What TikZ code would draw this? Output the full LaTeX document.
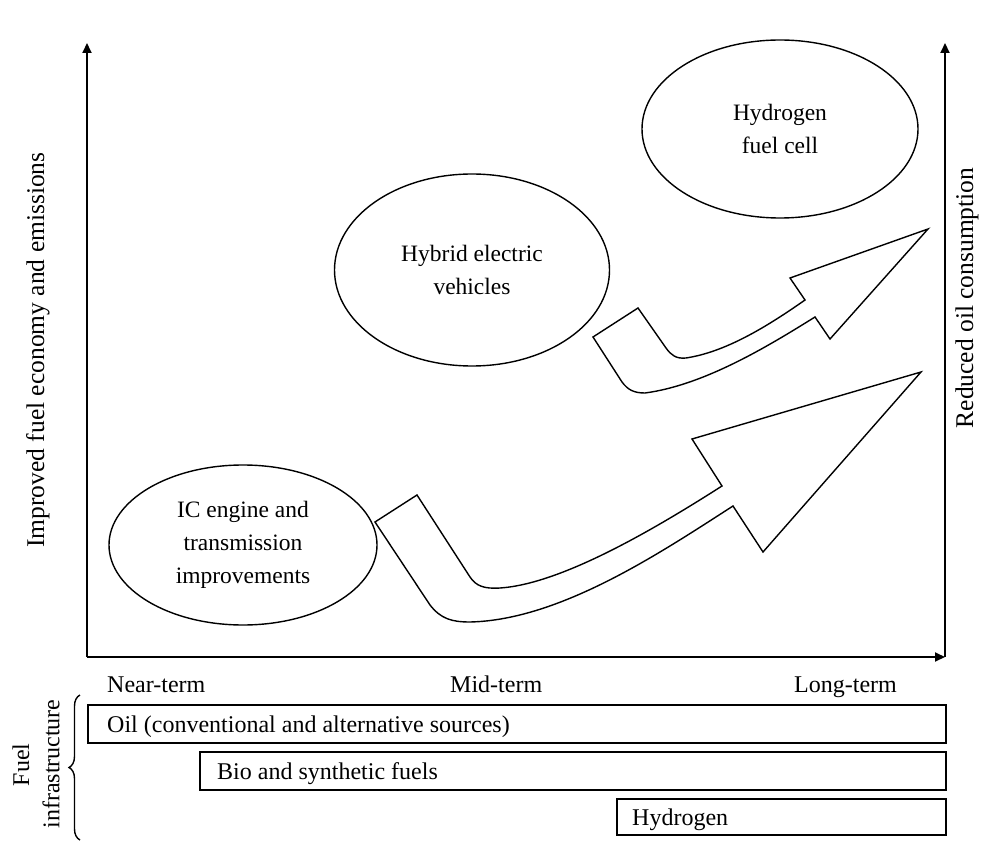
\documentclass[tikz,border=0pt]{standalone}
\usepackage{fontspec}
\setmainfont{Liberation Serif}
\usetikzlibrary{arrows.meta,shapes.geometric,decorations.pathreplacing}
\begin{document}
\begin{tikzpicture}[x=1pt,y=-1pt,
  lbl/.style={font=\fontsize{24}{33}\selectfont, inner sep=0pt},
  axlbl/.style={font=\fontsize{25.5}{30}\selectfont, inner sep=0pt},
  oval/.style={draw, line width=1.4pt, ellipse, inner sep=0pt, align=center, font=\fontsize{23.5}{33}\selectfont},
  axis/.style={line width=2pt, -{Triangle[length=10pt,width=9pt]}},
  fat/.style={draw, line width=1.4pt, line join=miter},
  bar/.style={draw, line width=2pt, inner sep=0pt, anchor=north west},
]
\useasboundingbox (0,0) rectangle (983,842);

% axes
\coordinate (o) at (87,657);
\coordinate (ytop) at (87,43);
\coordinate (xend) at (945,657);
\coordinate (rtop) at (945,43);
\draw[axis] (o) -- (ytop);
\draw[axis] (o) -- (xend);
\draw[axis] (xend) -- (rtop);

\node[axlbl, rotate=90] (ylab) at (38,350) {Improved fuel economy and emissions};
\node[axlbl, rotate=90] (rlab) at (967,298) {Reduced oil consumption};

% ellipses
\node[oval, minimum width=276pt, minimum height=178pt] (h2) at (780,129) {Hydrogen\\fuel cell};
\node[oval, minimum width=275pt, minimum height=192pt] (hev) at (472,270) {Hybrid electric\\vehicles};
\node[oval, minimum width=268pt, minimum height=160pt] (ice) at (243,545) {IC engine and\\transmission\\improvements};

% upper fat arrow
\draw[fat] (593,337) -- (638,308) -- (666,348)
  .. controls (671,355) and (676,359) .. (686,358)
  .. controls (725,352) and (765,328) .. (805,300)
  -- (790,278) -- (928,229) -- (830,339) -- (815,317)
  .. controls (770,345) and (705,385) .. (645,393)
  .. controls (634,393) and (628,390) .. (622,382) -- cycle;

% lower fat arrow
\draw[fat] (375,522) -- (417,495) -- (470,577)
  .. controls (476,586) and (484,589) .. (500,588)
  .. controls (560,584) and (650,532) .. (722,486)
  -- (692,439) -- (921,372) -- (763,552) -- (733,506)
  .. controls (660,553) and (560,620) .. (470,622)
  .. controls (452,622) and (441,619) .. (430,605) -- cycle;

% time labels
\node[lbl, anchor=base west] (near) at (107,692) {Near-term};
\node[lbl, anchor=base west] (mid) at (450,692) {Mid-term};
\node[lbl, anchor=base west] (long) at (794,692) {Long-term};

% fuel infrastructure
\draw[decorate, decoration={brace, amplitude=11pt}, line width=1.4pt] (80,840) -- (80,695);
\node[lbl, rotate=90] (fuel) at (21,765) {Fuel};
\node[lbl, rotate=90] (infra) at (51,764) {infrastructure};

\node[bar, minimum width=858pt, minimum height=38pt] (oil) at (87,704) {};
\node[lbl, anchor=base west] (oiltxt) at (107,732) {Oil (conventional and alternative sources)};
\node[bar, minimum width=746pt, minimum height=38pt] (bio) at (199,751) {};
\node[lbl, anchor=base west] (biotxt) at (217,779) {Bio and synthetic fuels};
\node[bar, minimum width=329pt, minimum height=36pt] (hyd) at (616,798) {};
\node[lbl, anchor=base west] (hydtxt) at (632,825) {Hydrogen};
\end{tikzpicture}
\end{document}
